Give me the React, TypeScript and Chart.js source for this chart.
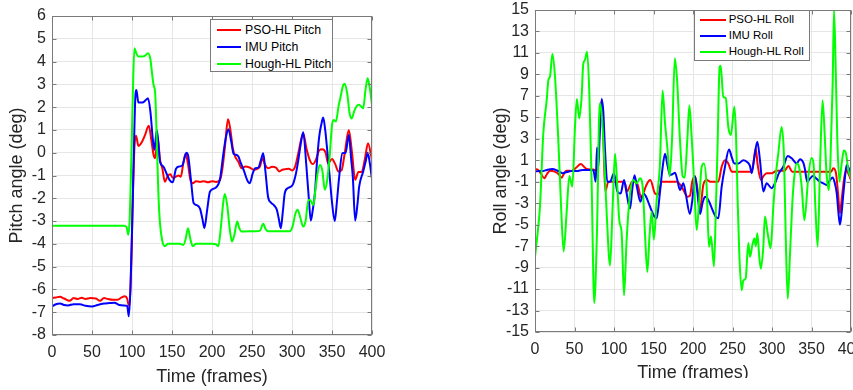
import React, { useEffect, useRef } from "react";
import { Chart, registerables } from "chart.js";

Chart.register(...registerables);

// ---------------- Pitch (left) ----------------
const pitchPsoFrames = [0, 5, 10, 15, 22, 27, 32, 37, 42, 48, 55, 60, 65, 70, 76, 82, 87, 91, 94, 96, 97, 99, 101, 103, 105, 108, 112, 116, 121, 124, 127, 129, 132, 135, 138, 141, 145, 148, 151, 155, 158, 161, 164, 167, 170, 173, 176, 180, 185, 190, 195, 200, 205, 210, 213, 216, 220, 223, 226, 229, 233, 237, 242, 247, 252, 257, 260, 263, 266, 270, 275, 280, 284, 288, 292, 296, 300, 304, 308, 314, 318, 322, 326, 330, 334, 338, 342, 345, 350, 354, 358, 362, 366, 371, 375, 379, 383, 387, 391, 395, 400];
const pitchPsoValues = [-6.38, -6.35, -6.32, -6.4, -6.5, -6.38, -6.42, -6.36, -6.42, -6.38, -6.4, -6.5, -6.38, -6.42, -6.45, -6.45, -6.35, -6.3, -6.4, -6.7, -6.7, -5.0, -2.0, 0.2, 0.75, 0.3, 0.45, 0.75, 1.18, 0.6, -0.1, -0.24, 0.7, -0.3, -0.7, -1.27, -1.0, -0.95, -1.1, -1.05, -1.0, -1.05, -0.5, -0.05, -0.5, -1.2, -1.34, -1.25, -1.28, -1.25, -1.3, -1.25, -1.28, -1.2, -0.7, 0.2, 1.47, 1.0, 0.2, -0.17, -0.4, -0.68, -0.6, -0.65, -0.75, -0.7, -0.6, -0.24, -0.5, -0.68, -0.62, -0.65, -0.82, -0.75, -0.72, -0.7, -0.78, -0.6, 0.0, 0.85, 0.2, -0.3, -0.5, -0.3, 0.1, 0.15, 0.0, -0.46, -0.28, -0.5, -0.82, -0.77, 0.0, 1.0, 0.0, -1.19, -0.85, -0.85, -0.3, 0.42, -0.32];

const pitchImuFrames = [0, 5, 10, 15, 20, 27, 35, 42, 50, 57, 65, 72, 78, 84, 90, 94, 96, 98, 100, 102, 104, 105.5, 108, 113, 117, 120, 123, 126, 128, 131, 133, 135, 139, 143, 147, 151, 155, 160, 163, 168, 170, 174, 177, 181, 185, 188, 190.5, 194, 197.5, 204, 210, 214, 217, 220.5, 224, 227, 231, 233, 236, 240, 244, 247, 251, 254, 258, 261, 264, 267, 270, 274, 277, 281, 283.5, 286, 288.5, 291, 295, 301, 305, 308, 311, 314, 318, 321, 323.5, 326, 329, 331, 334, 337, 339, 341.5, 344, 347, 349.5, 353.5, 356, 359, 363, 367, 371, 374, 376, 379, 382, 384, 389, 392, 394.6, 397, 400];
const pitchImuValues = [-6.75, -6.65, -6.62, -6.68, -6.7, -6.65, -6.65, -6.72, -6.75, -6.68, -6.62, -6.6, -6.58, -6.68, -6.7, -6.72, -7.18, -6.0, -3.5, -0.5, 2.3, 2.75, 2.2, 2.2, 2.3, 2.39, 1.8, 0.6, 0.12, 1.0, 0.4, -0.4, -0.6, -0.9, -1.2, -1.3, -0.7, -0.6, -0.55, 0.0, -0.1, -1.3, -2.21, -2.3, -2.45, -2.9, -3.31, -2.5, -1.7, -1.55, -1.15, -0.1, 0.6, 1.03, 0.5, -0.05, -0.1, -0.17, -0.45, -0.8, -1.2, -1.34, -0.9, -0.68, -0.65, -0.35, -0.02, -0.9, -1.92, -2.2, -2.29, -2.5, -2.9, -3.31, -2.6, -1.77, -1.55, -1.4, -0.9, -0.3, 0.4, 0.9, -0.6, -2.0, -2.98, -2.5, -1.63, -0.5, 0.71, 1.3, 1.55, 1.0, 0.12, -1.0, -2.0, -3.0, -2.2, -1.05, -0.02, 0.0, 0.78, -0.3, -1.05, -2.98, -2.2, -1.48, -0.82, -0.4, 0.0, -0.4, -1.16];

const pitchHoughFrames = [0, 90, 93, 95.5, 97, 99, 101, 103, 105, 108, 112, 116, 120, 123, 125, 127, 129, 131, 133, 135, 138, 141, 145, 150, 155, 160, 164, 167, 170, 173, 176, 180, 190, 200, 205, 208, 211, 214, 216, 219, 222, 225, 228, 231.5, 234, 237, 245, 255, 260, 264, 267, 270, 280, 290, 297, 301, 304, 307, 310, 314, 317, 320.5, 322.5, 326.7, 329, 332, 335, 338, 341, 344, 347, 350, 352, 355, 358, 361, 364, 366, 369, 372, 374.6, 378, 383, 386, 389, 392, 394.6, 397, 400];
const pitchHoughValues = [-3.2, -3.2, -3.25, -3.6, -3.0, -0.5, 2.5, 4.58, 4.4, 4.22, 4.22, 4.25, 4.36, 4.1, 3.5, 2.97, 2.6, 0.5, -1.8, -3.1, -3.9, -4.1, -4.0, -4.0, -4.0, -4.0, -4.05, -3.8, -3.31, -3.8, -4.1, -4.0, -4.0, -4.0, -4.02, -4.1, -3.3, -2.2, -1.81, -2.3, -3.3, -3.9, -3.6, -3.02, -3.3, -3.46, -3.45, -3.45, -3.42, -3.12, -3.35, -3.45, -3.45, -3.45, -3.45, -3.2, -2.7, -2.5, -2.8, -3.24, -3.0, -2.07, -2.07, -2.3, -1.7, -0.9, -0.54, -0.8, -1.63, -1.2, -0.2, 1.2, 1.44, 1.37, 2.0, 2.5, 2.97, 3.03, 2.6, 1.73, 1.5, 1.85, 2.1, 2.05, 1.95, 2.8, 3.27, 2.9, 2.1];

// ---------------- Roll (right) ----------------
const rollPsoFrames = [0, 4, 8, 11.8, 15, 19, 25, 30, 33.8, 37, 40, 46, 52, 58, 62, 65.4, 70, 74, 78, 80, 82, 84.4, 86.5, 89, 92.8, 100, 107.6, 111, 114, 116.5, 119.5, 123, 127, 130, 134.5, 138, 141, 146, 151.9, 156, 160.2, 170, 180, 184, 188, 192.8, 196.2, 199, 202.5, 205.5, 209, 213, 217.3, 222, 232, 236.3, 240.5, 244.7, 249, 260, 274.3, 277, 279.3, 282, 286, 289, 293.2, 300, 306, 316, 320.7, 325.7, 340, 360, 375, 377.6, 381, 383.5, 386, 388, 390, 392, 394.5, 397, 400];
const rollPsoValues = [0.18, 0.1, -0.3, -0.68, -0.3, 0.03, -0.06, -0.3, -0.62, -0.2, 0.03, 0.0, 0.3, 0.65, 0.4, 0.18, 0.15, 0.15, 0.0, 1.0, 4.5, 6.6, 3.0, -1.9, -1.0, -1.0, -1.0, -1.0, -1.2, -1.9, -1.5, -1.0, -1.0, -1.3, -2.5, -1.9, -1.3, -0.84, -2.1, -2.2, -1.0, -1.0, -1.0, -1.3, -1.8, -2.4, -2.3, -1.0, -0.5, -1.6, -3.5, -1.3, -0.84, -1.0, -1.0, 0.4, 1.0, 0.7, -0.06, -0.06, -0.06, 1.0, 2.1, 0.5, -0.84, -0.5, -0.2, -0.2, 0.03, 0.03, 0.47, -0.06, -0.06, -0.06, -0.06, 0.25, -0.2, -2.0, -3.94, -2.8, -1.46, -0.4, 0.09, -0.3, -0.84];

const rollImuFrames = [0, 5, 10, 15, 22, 28, 35, 40, 46, 53, 60, 65, 70, 74, 76.8, 78.5, 80, 82, 84.4, 86.5, 88.6, 91.5, 95, 100, 104.2, 108.4, 112.7, 116, 120.3, 123, 126, 129, 133.5, 137, 140, 145.5, 150, 154, 158, 161, 164.6, 167.5, 170.9, 174, 177.2, 180, 183.5, 187.8, 191, 196, 199, 202.5, 205.5, 209, 212, 215.2, 219.4, 224.5, 228.7, 232, 236.3, 240.5, 245.6, 249, 252.3, 257.4, 263.7, 268, 272, 274.3, 277.7, 281.4, 284.8, 289, 293.2, 299.6, 304.6, 308.8, 314.3, 319.9, 325, 331.2, 335.4, 339.5, 341.5, 344.6, 348, 352, 356, 360.8, 365, 369, 373, 376.8, 379, 382, 384, 386, 388, 390, 392.5, 394.5, 397, 400];
const rollImuValues = [-0.06, 0.0, 0.0, 0.1, 0.18, 0.05, -0.2, -0.1, 0.0, 0.0, 0.1, 0.1, 0.1, 0.05, -1.0, 2.2, 0.2, 3.5, 6.7, 5.5, 2.0, -1.0, -1.0, -0.2, -1.9, -2.1, -0.84, -2.1, -3.5, -1.8, -0.4, -1.5, -2.86, -2.1, -2.3, -3.3, -4.1, -4.4, -2.1, 0.0, 1.6, 0.6, -0.37, -0.3, -0.16, -0.8, -1.77, -1.15, -2.2, -4.0, -2.8, -0.5, -2.0, -4.0, -3.0, -2.4, -2.7, -3.6, -4.25, -4.4, -1.46, 0.4, 2.0, 1.3, 0.7, 0.7, 1.0, 0.87, 0.5, -0.2, 1.3, 2.73, 1.0, -1.9, -1.15, -1.6, -1.0, -0.2, 0.4, 1.4, 1.18, 0.7, 1.1, 0.8, 0.25, -1.0, -0.7, -0.47, -0.7, -1.0, -1.15, -1.3, -0.9, -0.6, -1.0, -2.1, -3.8, -5.0, -4.0, -2.4, -0.5, 0.56, 0.3, -0.53];

const rollHoughFrames = [0, 3, 6.3, 10.5, 14.8, 17, 19, 22, 25.3, 29.5, 33, 36.3, 40, 43.5, 47.3, 50.6, 53, 56, 59, 61, 63, 66, 68.8, 71.7, 75, 78.5, 81.9, 84, 86.5, 90.7, 95, 98.3, 101.3, 104.2, 106.7, 109.7, 112.7, 116, 120.3, 124.5, 128.7, 132.9, 136.3, 139.2, 142.2, 145, 147.7, 150.5, 154, 158, 161.5, 164.5, 167.5, 170.5, 173.5, 177, 180, 183.5, 187, 189.5, 192.8, 195.4, 198.3, 201.3, 204.6, 207.6, 211, 213.9, 217.3, 220.2, 222.8, 226.6, 229, 231, 233.7, 235, 238.4, 241.4, 244.7, 248, 252.3, 254.4, 256.5, 258.6, 261.6, 263.7, 266.7, 270, 272.2, 275.1, 277.7, 279.5, 281.4, 284, 286, 289, 291.1, 294.5, 298.3, 301.7, 304.6, 308, 312.2, 315.2, 317.3, 319.9, 322.8, 325.7, 328.3, 331.2, 334.2, 337.6, 341, 346, 350, 352.5, 355, 357.8, 360.8, 364, 367, 369, 372, 374, 376.8, 378.5, 380.6, 382.7, 385.3, 388.2, 391, 393.7, 396.6, 400];
const rollHoughValues = [-8.0, -6.0, -3.3, 3.5, 6.6, 8.5, 8.8, 10.9, 8.8, 2.9, -3.3, -7.5, -3.9, -0.47, -1.46, 4.1, 6.7, 4.9, 6.9, 9.9, 10.3, 11.1, 7.2, -1.15, -12.3, -5.5, 6.3, 5.6, 2.9, -3.9, -8.8, -3.3, 1.6, -1.46, -4.6, -5.8, -11.6, -6.4, -2.1, -0.84, -1.15, -0.68, -1.46, -5.8, -9.4, -6.0, -3.8, -6.4, -2.7, 0.4, 7.5, 4.5, 2.2, -0.5, 3.0, 10.5, 8.3, 2.9, -0.5, -0.6, 2.9, 6.1, 3.2, -0.84, -5.5, -3.0, 0.4, 0.7, -1.46, -7.05, -6.1, -8.9, -3.3, 2.0, 9.7, 9.8, 6.9, 6.8, 4.1, 3.35, 6.0, 3.5, -2.7, -7.7, -11.1, -10.2, -10.0, -6.7, -8.0, -6.9, -6.3, -7.0, -5.8, -8.1, -9.1, -7.05, -4.25, -5.8, -7.2, -3.3, -0.53, 1.65, 4.1, 1.3, -5.8, -11.9, -7.7, -3.0, -0.5, 0.7, 0.4, -1.46, -4.6, -0.5, 1.2, 0.7, -3.5, -7.06, 0.4, 6.6, 2.9, -0.2, -1.77, 1.0, 8.2, 15.0, 9.7, 2.9, -1.0, 0.7, 1.9, 1.6, 0.1, -0.68];

// ---------------- Axes ----------------
const frameTicks = [0, 50, 100, 150, 200, 250, 300, 350, 400];
const pitchTicks = [-8, -7, -6, -5, -4, -3, -2, -1, 0, 1, 2, 3, 4, 5, 6];
const rollTicks = [-15, -13, -11, -9, -7, -5, -3, -1, 1, 3, 5, 7, 9, 11, 13, 15];

const pitchLabels = ["PSO-HL Pitch", "IMU Pitch", "Hough-HL Pitch"];
const rollLabels = ["PSO-HL Roll", "IMU Roll", "Hough-HL Roll"];
const seriesColors = ["#ff0000", "#0000ff", "#00ff00"];

const FONT = '"Liberation Sans", Arial, Helvetica, sans-serif';
const TEXT = "#262626";
const AXIS = "#7a7a7a";
const GRID = "#e6e6e6";

const toPoints = (f: number[], v: number[]) => f.map((x, i) => ({ x, y: v[i] }));

const boxPlugin = {
  id: "matlabBox",
  afterDatasetsDraw(chart: any) {
    const { ctx, chartArea } = chart;
    const { left, right, top, bottom } = chartArea;
    ctx.save();
    ctx.strokeStyle = AXIS;
    ctx.lineWidth = 1;
    const L = Math.round(left) + 0.5;
    const R = Math.round(right) - 0.5;
    const T = Math.round(top) + 0.5;
    const B = Math.round(bottom) - 0.5;
    ctx.beginPath();
    const tl = 4;
    const xs = chart.scales.x;
    const ys = chart.scales.y;
    xs.ticks.forEach((t: any) => {
      const p = Math.round(xs.getPixelForValue(t.value)) + 0.5;
      ctx.moveTo(p, B);
      ctx.lineTo(p, B - tl);
      ctx.moveTo(p, T);
      ctx.lineTo(p, T + tl);
    });
    ys.ticks.forEach((t: any) => {
      const p = Math.round(ys.getPixelForValue(t.value)) + 0.5;
      ctx.moveTo(L, p);
      ctx.lineTo(L + tl, p);
      ctx.moveTo(R, p);
      ctx.lineTo(R - tl, p);
    });
    ctx.stroke();
    ctx.strokeRect(L, T, R - L, B - T);
    ctx.restore();
  },
};

type PanelCfg = {
  width: number;
  height: number;
  frames: number[][];
  values: number[][];
  labels: string[];
  yTicks: number[];
  yMin: number;
  yMax: number;
  yTitle: string;
  padTop: number;
  padRight: number;
  yWidth: number;
  xHeight: number;
  yTitlePad: number;
  xTitlePad: number;
  xTickPad: number;
};

function Panel(props: PanelCfg) {
  const ref = useRef<HTMLCanvasElement | null>(null);
  useEffect(() => {
    if (!ref.current) return;
    const p = props;
    const chart = new Chart(ref.current, {
      type: "line",
      data: {
        datasets: p.labels.map((label, i) => ({
          label,
          data: toPoints(p.frames[i], p.values[i]),
          borderColor: seriesColors[i],
          backgroundColor: seriesColors[i],
          borderWidth: 2,
          pointRadius: 0,
          fill: false,
          cubicInterpolationMode: "monotone" as const,
          order: 3 - i,
        })),
      },
      options: {
        responsive: false,
        maintainAspectRatio: false,
        animation: false,
        events: [],
        layout: { padding: { top: p.padTop, right: p.padRight, left: 0, bottom: 0 } },
        plugins: { legend: { display: false }, tooltip: { enabled: false } },
        scales: {
          x: {
            type: "linear",
            min: 0,
            max: 400,
            afterBuildTicks: (s: any) => {
              s.ticks = frameTicks.map((value) => ({ value }));
            },
            afterFit: (s: any) => {
              s.height = p.xHeight;
              s.paddingLeft = 0;
              s.paddingRight = 0;
            },
            grid: { color: GRID, drawTicks: false },
            border: { display: false },
            ticks: { color: TEXT, font: { family: FONT, size: 16 }, padding: p.xTickPad, maxRotation: 0, autoSkip: false },
            title: { display: true, text: "Time (frames)", color: TEXT, font: { family: FONT, size: 18 }, padding: { top: 0, bottom: p.xTitlePad } },
          },
          y: {
            type: "linear",
            min: p.yMin,
            max: p.yMax,
            afterBuildTicks: (s: any) => {
              s.ticks = p.yTicks.map((value) => ({ value }));
            },
            afterFit: (s: any) => {
              s.width = p.yWidth;
              s.paddingTop = 0;
              s.paddingBottom = 0;
            },
            grid: { color: GRID, drawTicks: false },
            border: { display: false },
            ticks: { color: TEXT, font: { family: FONT, size: 16 }, padding: 6, autoSkip: false },
            title: { display: true, text: p.yTitle, color: TEXT, font: { family: FONT, size: 18 }, padding: { top: p.yTitlePad, bottom: 0 } },
          },
        },
      },
      plugins: [boxPlugin],
    });
    return () => chart.destroy();
  }, []);
  return <canvas ref={ref} width={props.width} height={props.height} style={{ width: props.width, height: props.height, display: "block" }} />;
}

type LegendCfg = {
  left: number;
  top: number;
  width: number;
  height: number;
  labels: string[];
  rowTop: number;
  rowGap: number;
  lineLeft: number;
  lineLen: number;
  textLeft: number;
  fontSize: number;
};

function Legend(c: LegendCfg) {
  return (
    <div
      style={{
        position: "absolute",
        left: c.left,
        top: c.top,
        width: c.width,
        height: c.height,
        boxSizing: "border-box",
        border: `1px solid ${AXIS}`,
        background: "#ffffff",
        fontFamily: FONT,
        fontSize: c.fontSize,
        color: "#000000",
      }}
    >
      {c.labels.map((label, i) => (
        <div key={label}>
          <div
            style={{
              position: "absolute",
              left: c.lineLeft,
              top: Math.round(c.rowTop + i * c.rowGap) - 1,
              width: c.lineLen,
              height: 2,
              background: seriesColors[i],
            }}
          />
          <div
            style={{
              position: "absolute",
              left: c.textLeft,
              top: c.rowTop + i * c.rowGap - c.fontSize * 0.6,
              lineHeight: `${c.fontSize * 1.2}px`,
              whiteSpace: "nowrap",
            }}
          >
            {label}
          </div>
        </div>
      ))}
    </div>
  );
}

export default function App() {
  return (
    <div style={{ position: "absolute", left: 0, top: 0, width: 853, height: 390, background: "#ffffff", overflow: "hidden" }}>
      <div style={{ position: "absolute", left: 0, top: 0, width: 420, height: 390 }}>
        <Panel
          width={420}
          height={390}
          frames={[pitchPsoFrames, pitchImuFrames, pitchHoughFrames]}
          values={[pitchPsoValues, pitchImuValues, pitchHoughValues]}
          labels={pitchLabels}
          yTicks={pitchTicks}
          yMin={-8}
          yMax={6}
          yTitle="Pitch angle (deg)"
          padTop={16}
          padRight={48}
          yWidth={52}
          xHeight={55}
          yTitlePad={6.7}
          xTitlePad={2.2}
          xTickPad={7.7}
        />
        <Legend left={210} top={19} width={123} height={53} labels={pitchLabels} rowTop={10} rowGap={17} lineLeft={6} lineLen={24} textLeft={34} fontSize={12.3} />
      </div>
      <div style={{ position: "absolute", left: 430, top: 0, width: 423, height: 378, overflow: "hidden" }}>
        <Panel
          width={423}
          height={390}
          frames={[rollPsoFrames, rollImuFrames, rollHoughFrames]}
          values={[rollPsoValues, rollImuValues, rollHoughValues]}
          labels={rollLabels}
          yTicks={rollTicks}
          yMin={-15}
          yMax={15}
          yTitle="Roll angle (deg)"
          padTop={10}
          padRight={2}
          yWidth={105}
          xHeight={58}
          yTitlePad={60.7}
          xTitlePad={5.9}
          xTickPad={8.4}
        />
        <Legend left={264} top={10} width={116} height={51} labels={rollLabels} rowTop={9} rowGap={16} lineLeft={5} lineLen={26} textLeft={33.7} fontSize={11.5} />
      </div>
    </div>
  );
}
